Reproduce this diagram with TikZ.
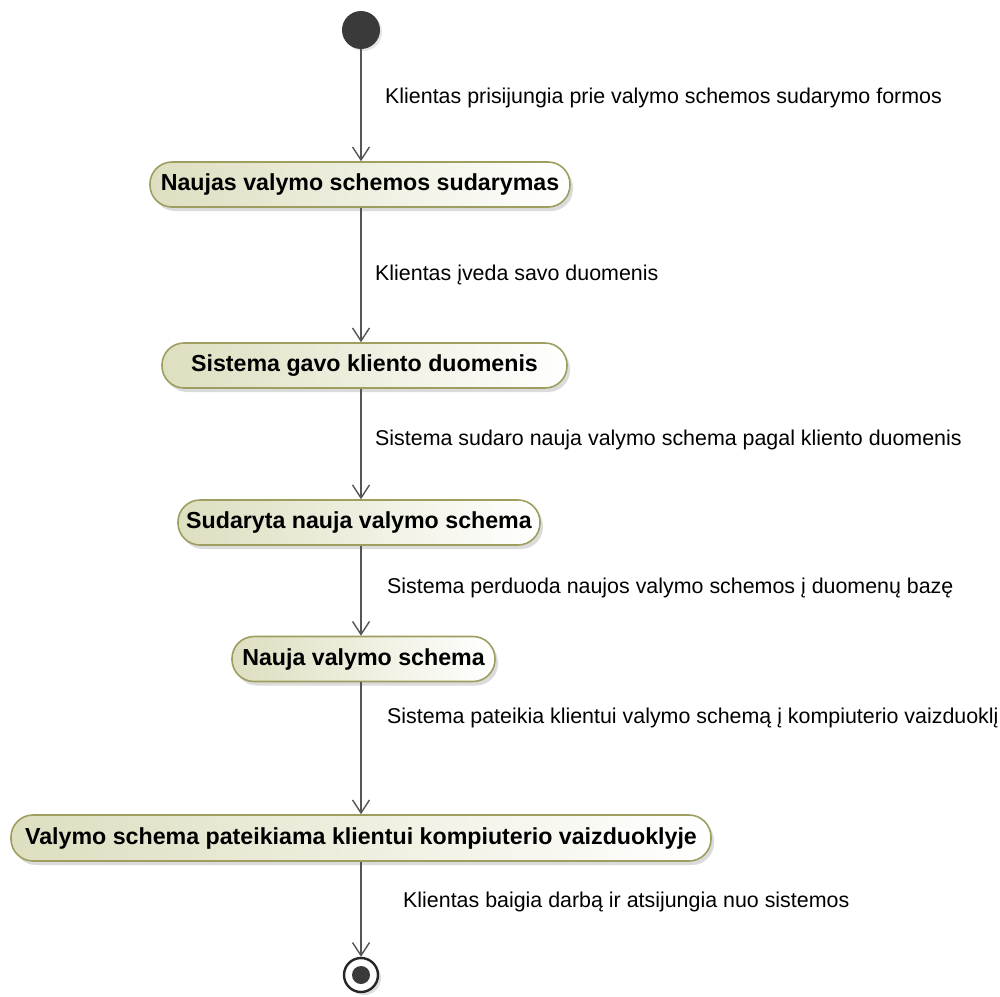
\documentclass[tikz,border=0pt]{standalone}
\usepackage{fontspec}
\setmainfont{Liberation Sans}
\usetikzlibrary{arrows.meta,shadows}

\definecolor{actleft}{RGB}{222,222,192}
\definecolor{actborder}{RGB}{158,158,96}
\definecolor{flowgray}{RGB}{85,85,85}
\definecolor{startfill}{RGB}{58,58,58}

\begin{document}
\begin{tikzpicture}[x=1pt,y=-1pt,
  act/.style={rectangle, rounded corners=22pt, draw=actborder, line width=1.6pt,
    left color=actleft, right color=white, minimum height=45pt, inner sep=0pt,
    font=\fontsize{23.2}{26}\selectfont\bfseries,
    drop shadow={shadow xshift=3pt, shadow yshift=-4pt, fill=black!28}},
  flow/.style={draw=flowgray, line width=1.4pt,
    -{Straight Barb[length=13pt,width=17pt,line width=1.4pt]}},
  lbl/.style={anchor=west, inner sep=0pt, font=\fontsize{21.4}{24}\selectfont},
  initial/.style={circle, fill=startfill, minimum size=38pt, inner sep=0pt,
    drop shadow={shadow xshift=2pt, shadow yshift=-2pt, fill=black!20}},
  final/.style={circle, draw=black!85, line width=2.4pt, fill=white,
    minimum size=34pt, inner sep=0pt,
    drop shadow={shadow xshift=3pt, shadow yshift=-3pt, fill=black!25}},
  finaldot/.style={circle, fill=startfill, minimum size=18pt, inner sep=0pt}]

  % canvas
  \fill[white] (0,0) rectangle (1000,996);
  \useasboundingbox (0,0) rectangle (1000,996);

  % start and end states
  \node[initial] (start) at (361,30) {};
  \node[final] (end) at (361,975) {};
  \node[finaldot] (enddot) at (end) {};

  % activities
  \node[act, minimum width=420pt] (b1) at (360,184.5) {Naujas valymo schemos sudarymas};
  \node[act, minimum width=405pt] (b2) at (364.5,365.5) {Sistema gavo kliento duomenis};
  \node[act, minimum width=362pt] (b3) at (359,522.5) {Sudaryta nauja valymo schema};
  \node[act, minimum width=263pt] (b4) at (363.5,659) {Nauja valymo schema};
  \node[act, minimum width=700pt, minimum height=46pt] (b5) at (361,838) {Valymo schema pateikiama klientui kompiuterio vaizduoklyje};

  % transitions
  \draw[flow] (start) -- (b1.north -| start);
  \draw[flow] (b1.south -| start) -- (b2.north -| start);
  \draw[flow] (b2.south -| start) -- (b3.north -| start);
  \draw[flow] (b3.south -| start) -- (b4.north -| start);
  \draw[flow] (b4.south -| start) -- (b5.north -| start);
  \draw[flow] (b5.south -| end) -- (end);

  % transition labels
  \node[lbl] (t1) at (385,98) {Klientas prisijungia prie valymo schemos sudarymo formos};
  \node[lbl] (t2) at (375,275) {Klientas įveda savo duomenis};
  \node[lbl] (t3) at (375,440) {Sistema sudaro nauja valymo schema pagal kliento duomenis};
  \node[lbl] (t4) at (387,588) {Sistema perduoda naujos valymo schemos į duomenų bazę};
  \node[lbl] (t5) at (387,718) {Sistema pateikia klientui valymo schemą į kompiuterio vaizduoklį};
  \node[lbl] (t6) at (403,902) {Klientas baigia darbą ir atsijungia nuo sistemos};
\end{tikzpicture}
\end{document}
